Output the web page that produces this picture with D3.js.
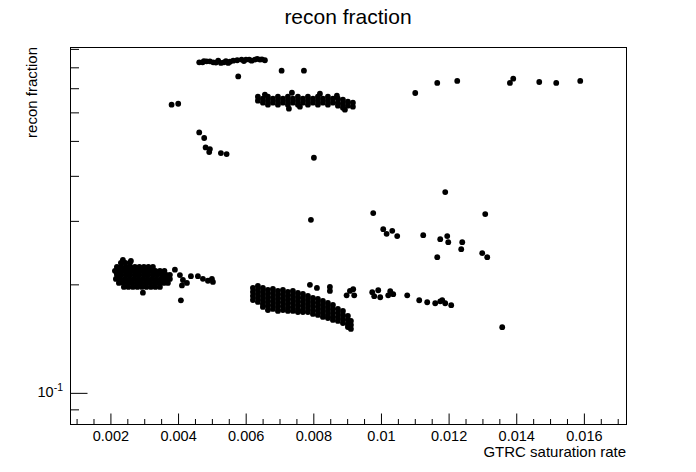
<!DOCTYPE html>
<html><head><meta charset="utf-8">
<script src="https://cdn.jsdelivr.net/npm/d3@7"></script>
<style>
html,body{margin:0;padding:0;background:#fff;}
text{font-family:"Liberation Sans",Arial,Helvetica,sans-serif;fill:#000;}
</style></head>
<body><svg id="c" width="696" height="472"></svg>
<script>
// ---- data ----
const chartTitle = "recon fraction";
const xTitle = "GTRC saturation rate";
const yTitle = "recon fraction";
const xDomain = [0.00082, 0.01726];
const yDomain = [0.0817, 0.908];
const xMajorTicks = [0.002, 0.004, 0.006, 0.008, 0.01, 0.012, 0.014, 0.016];
const xTickLabels = ["0.002", "0.004", "0.006", "0.008", "0.01", "0.012", "0.014", "0.016"];
const yMajorTicks = [0.1];
const yMinorTicks = [0.09, 0.2, 0.3, 0.4, 0.5, 0.6, 0.7, 0.8, 0.9];

// dense cluster A (rows: y, x list)
const blobAY = [0.2287, 0.2229, 0.2173, 0.2118, 0.2064, 0.2012, 0.1961];
const blobAX = [
 [0.002325, 0.002458, 0.002591],
 [0.002207, 0.002340, 0.002473, 0.002606, 0.002739, 0.002872, 0.003005, 0.003138, 0.003272],
 [0.002148, 0.002281, 0.002414, 0.002547, 0.002680, 0.002813, 0.002946, 0.003079, 0.003212, 0.003345, 0.003479, 0.003612],
 [0.002207, 0.002340, 0.002473, 0.002606, 0.002739, 0.002872, 0.003005, 0.003138, 0.003272, 0.003405, 0.003538, 0.003671, 0.003774],
 [0.002177, 0.002310, 0.002444, 0.002577, 0.002710, 0.002843, 0.002976, 0.003109, 0.003242, 0.003375, 0.003508, 0.003641, 0.003774],
 [0.002266, 0.002399, 0.002532, 0.002665, 0.002798, 0.002931, 0.003065, 0.003198, 0.003331, 0.003464, 0.003597, 0.003715],
 [0.002414, 0.002547, 0.002680, 0.002813, 0.002946, 0.003079, 0.003212, 0.003345, 0.003479]
];
const blobAExtra = [[0.002384, 0.2331], [0.002621, 0.2316], [0.002200, 0.2150], [0.003700, 0.2090], [0.003420, 0.2160], [0.002900, 0.1990]];

// dense cluster B (columns: x, y list)
const bandBX = [0.006229, 0.006376, 0.006524, 0.006672, 0.006820, 0.006968, 0.007116, 0.007263, 0.007411, 0.007559, 0.007707, 0.007855, 0.008003, 0.008150, 0.008298, 0.008446, 0.008594, 0.008742, 0.008890, 0.009037, 0.009126];
const bandBY = [
 [0.1949, 0.1900, 0.1851, 0.1804],
 [0.1974, 0.1924, 0.1875, 0.1828, 0.1782],
 [0.1949, 0.1900, 0.1851, 0.1804, 0.1759, 0.1726],
 [0.1924, 0.1875, 0.1828, 0.1782, 0.1737, 0.1692],
 [0.1936, 0.1887, 0.1839, 0.1793, 0.1748, 0.1704],
 [0.1912, 0.1863, 0.1816, 0.1770, 0.1726, 0.1682],
 [0.1924, 0.1875, 0.1828, 0.1782, 0.1737, 0.1692],
 [0.1900, 0.1851, 0.1804, 0.1759, 0.1714, 0.1682],
 [0.1912, 0.1863, 0.1816, 0.1770, 0.1726, 0.1682],
 [0.1887, 0.1839, 0.1793, 0.1748, 0.1704, 0.1671],
 [0.1875, 0.1828, 0.1782, 0.1737, 0.1692, 0.1671],
 [0.1851, 0.1804, 0.1759, 0.1714, 0.1671],
 [0.1828, 0.1782, 0.1737, 0.1692, 0.1650],
 [0.1816, 0.1770, 0.1726, 0.1682, 0.1640],
 [0.1793, 0.1748, 0.1704, 0.1661, 0.1619],
 [0.1770, 0.1726, 0.1682, 0.1640, 0.1608],
 [0.1748, 0.1704, 0.1661, 0.1619, 0.1588],
 [0.1704, 0.1661, 0.1619, 0.1578],
 [0.1682, 0.1640, 0.1598, 0.1557],
 [0.1629, 0.1588, 0.1548, 0.1518],
 [0.1578, 0.1538, 0.1500]
];

// band D (columns: x, y list)
const bandDX = [0.006376, 0.006524, 0.006672, 0.006820, 0.006968, 0.007116, 0.007263, 0.007411, 0.007559, 0.007707, 0.007855, 0.008003, 0.008150, 0.008298, 0.008446, 0.008594, 0.008742, 0.008890, 0.009037, 0.009185];
const bandDY = [
 [0.661, 0.6446], [0.6529, 0.6364], [0.661, 0.6446, 0.6281], [0.6529, 0.6364],
 [0.661, 0.6446, 0.6281], [0.6529, 0.6364], [0.661, 0.6446, 0.6281], [0.6529, 0.6364],
 [0.661, 0.6446, 0.6281], [0.6529, 0.6364], [0.661, 0.6446, 0.6281], [0.6529, 0.6364],
 [0.661, 0.6446, 0.6281], [0.6529, 0.6364], [0.661, 0.6446, 0.6281], [0.6529, 0.6364],
 [0.6529, 0.6364, 0.6243], [0.6487, 0.6323, 0.6163], [0.6404, 0.6243], [0.6364, 0.6202]
];
const bandDExtra = [[0.006583, 0.670], [0.007382, 0.678], [0.008210, 0.674], [0.008712, 0.6654], [0.007293, 0.6124], [0.008949, 0.6084], [0.007618, 0.6202]];

// top band C
const bandC = [
 [0.004641, 0.8233], [0.004741, 0.8233], [0.004859, 0.8286], [0.004957, 0.8286], [0.005055, 0.8233],
 [0.005202, 0.8323], [0.005282, 0.8201], [0.005371, 0.8233], [0.005498, 0.8201], [0.005646, 0.8323],
 [0.005764, 0.8342], [0.005894, 0.8377], [0.006022, 0.8377], [0.006119, 0.8377], [0.006190, 0.8323],
 [0.006356, 0.8414], [0.006436, 0.8377], [0.006583, 0.8342], [0.004780, 0.8297], [0.005134, 0.8218],
 [0.005430, 0.8297], [0.005548, 0.8270], [0.005962, 0.8297], [0.006288, 0.8377], [0.006495, 0.8395],
 [0.005794, 0.7525]
];

// isolated points
const isolated = [
 [0.003922, 0.219], [0.004070, 0.2115], [0.004159, 0.205], [0.004277, 0.2012], [0.004130, 0.198],
 [0.004395, 0.210], [0.004602, 0.210], [0.004750, 0.2065], [0.004898, 0.204], [0.005016, 0.2065],
 [0.005046, 0.2025], [0.004099, 0.180], [0.002976, 0.189],
 [0.007914, 0.1987], [0.008121, 0.1949], [0.008505, 0.1961], [0.008505, 0.1912],
 [0.003824, 0.628], [0.004020, 0.632], [0.004641, 0.5262], [0.004788, 0.5077], [0.004830, 0.4780],
 [0.004957, 0.4732], [0.004936, 0.4642], [0.005282, 0.4612], [0.005451, 0.4583], [0.008032, 0.4476],
 [0.007077, 0.7807], [0.007737, 0.7807], [0.007944, 0.301],
 [0.011028, 0.6769], [0.011679, 0.7216], [0.012270, 0.7309], [0.013828, 0.7216], [0.013926, 0.7416],
 [0.014695, 0.7262], [0.015197, 0.7216], [0.015907, 0.7309],
 [0.011915, 0.3594], [0.009786, 0.3143], [0.013098, 0.3123], [0.010082, 0.2836], [0.010182, 0.2753],
 [0.010348, 0.2806], [0.010495, 0.2713], [0.011264, 0.2730], [0.011767, 0.2661], [0.011974, 0.2713],
 [0.012004, 0.2610], [0.012418, 0.2610], [0.012388, 0.2496], [0.011679, 0.2371], [0.013009, 0.2433],
 [0.013157, 0.2371],
 [0.008999, 0.1859], [0.009097, 0.1912], [0.009194, 0.1932], [0.009224, 0.1859], [0.009756, 0.1896],
 [0.009815, 0.1848], [0.009934, 0.1920], [0.009993, 0.1836], [0.010229, 0.1859], [0.010289, 0.1908],
 [0.010377, 0.1872], [0.010791, 0.1859], [0.011146, 0.1801], [0.011382, 0.1778], [0.011619, 0.1767],
 [0.011767, 0.1789], [0.011826, 0.1801], [0.011915, 0.1767], [0.012092, 0.1745], [0.013600, 0.1516]
];

// ---- build point table ----
const points = [];
blobAY.forEach((y, i) => blobAX[i].forEach(x => points.push([x, y])));
blobAExtra.forEach(p => points.push(p));
bandBX.forEach((x, i) => bandBY[i].forEach(y => points.push([x, y])));
bandDX.forEach((x, i) => bandDY[i].forEach(y => points.push([x, y])));
bandDExtra.forEach(p => points.push(p));
bandC.forEach(p => points.push(p));
isolated.forEach(p => points.push(p));

// ---- layout ----
const W = 696, H = 472;
const L = 70, R = 626, T = 47, B = 424;
const svg = d3.select("#c");
svg.append("rect").attr("width", W).attr("height", H).attr("fill", "#fff");

const x = d3.scaleLinear().domain(xDomain).range([L, R]);
const y = d3.scaleLog().domain(yDomain).range([B, T]);

// points
svg.append("g").selectAll("circle").data(points).join("circle")
  .attr("cx", d => x(d[0])).attr("cy", d => y(d[1])).attr("r", 2.9).attr("fill", "#000");

// frame
svg.append("rect").attr("x", L + 0.5).attr("y", T + 0.5).attr("width", R - L).attr("height", B - T)
  .attr("fill", "none").attr("stroke", "#000").attr("stroke-width", 1);

// x axis
const xMinor = d3.range(2, 35).map(i => i * 0.0005).filter(v => v >= xDomain[0] && v <= xDomain[1] && Math.abs(v / 0.002 - Math.round(v / 0.002)) > 1e-6);
const xAxis = d3.axisBottom(x).tickValues(xMajorTicks).tickSize(-11).tickPadding(6.5)
  .tickFormat((d, i) => xTickLabels[i]);
const gx = svg.append("g").attr("transform", `translate(0.5,${B + 0.5})`).call(xAxis);
gx.select(".domain").remove();
gx.selectAll("line").attr("stroke", "#000");
gx.selectAll("text").style("font-size", "14.5px").attr("fill", "#000");
const xMinorAxis = d3.axisBottom(x).tickValues(xMinor).tickSize(-5.5).tickFormat("");
const gxm = svg.append("g").attr("transform", `translate(0.5,${B + 0.5})`).call(xMinorAxis);
gxm.select(".domain").remove();
gxm.selectAll("line").attr("stroke", "#000");

// y axis
const yAxis = d3.axisLeft(y).tickValues(yMajorTicks).tickSize(-17).tickFormat("");
const gy = svg.append("g").attr("transform", `translate(${L + 0.5},0.5)`).call(yAxis);
gy.select(".domain").remove();
gy.selectAll("line").attr("stroke", "#000");
const yMinorAxis = d3.axisLeft(y).tickValues(yMinorTicks).tickSize(-8.5).tickFormat("");
const gym = svg.append("g").attr("transform", `translate(${L + 0.5},0.5)`).call(yMinorAxis);
gym.select(".domain").remove();
gym.selectAll("line").attr("stroke", "#000");

// 10^-1 label
yMajorTicks.forEach(v => {
  const t = svg.append("text").attr("x", 63).attr("y", y(v) + 5).attr("text-anchor", "end").style("font-size", "14.5px");
  t.append("tspan").text("10");
  t.append("tspan").attr("dy", -6).style("font-size", "10.5px").text("-1");
});

// titles
svg.append("text").attr("x", 348).attr("y", 24).attr("text-anchor", "middle").style("font-size", "21px").text(chartTitle);
svg.append("text").attr("x", R).attr("y", 457).attr("text-anchor", "end").style("font-size", "15px").text(xTitle);
svg.append("text").attr("transform", `translate(37,${T}) rotate(-90)`).attr("text-anchor", "end").style("font-size", "15px").text(yTitle);
</script></body></html>
